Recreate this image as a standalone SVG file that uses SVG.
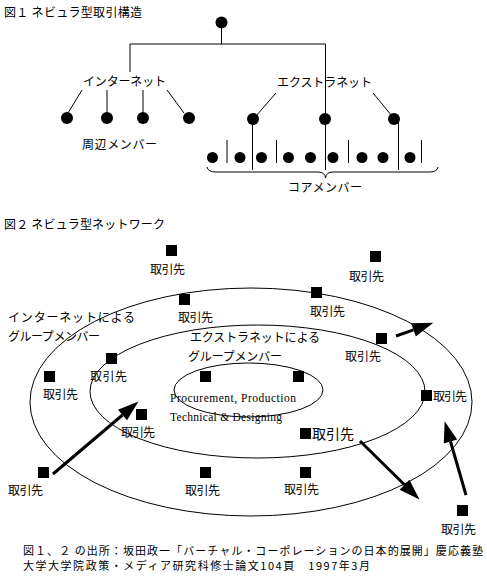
<svg xmlns="http://www.w3.org/2000/svg" width="487" height="577" viewBox="0 0 487 577">
<style>
text{font-family:"Noto Sans CJK JP","Noto Sans",sans-serif;font-size:12px;fill:#000}
.en{font-family:"Liberation Serif",serif;font-size:11.5px}
.big{font-size:14px}
.ft{font-size:11px}
.ln{stroke:#000;stroke-width:1;fill:none}
.dot{fill:#000}
.sq{fill:#000}
.ell{fill:none;stroke:#000;stroke-width:1}
.arr{stroke:#000;stroke-width:3;fill:none;marker-end:url(#ah)}
</style>
<defs>
<marker id="ah" markerUnits="userSpaceOnUse" markerWidth="22" markerHeight="14" refX="0" refY="7" orient="auto" overflow="visible">
<path d="M0,0 L21,7 L0,14 Z" fill="#000"/>
</marker>
</defs>
<rect width="487" height="577" fill="#fff"/>

<g id="title1"><text x="4" y="17" textLength="138">図１ ネビュラ型取引構造</text></g>

<g id="connectors-tree">
<path class="ln" d="M221.5,22 V44 M130,44 H325.5 V170 M130,44 V72"/>
<path class="ln" d="M82,90 L68,113 M107,90 V113 M143,90 V113 M167,90 L184,113"/>
<path class="ln" d="M276,93 L256,116 M373,93 L392,116 M252.5,119 V170 M398.5,119 V170"/>
<path class="ln" d="M227,140 V163 M276.5,140 V163 M348.5,140 V163 M421.5,140 V163"/>
<path class="ln" d="M207,167 Q208,172 216,172 H318 Q325,172 325.5,178 Q326,172 333,172 H430 Q437,172 438,167"/>
</g>

<g id="root"><circle class="dot" cx="221.5" cy="22.5" r="6"/></g>
<g id="internet"><text x="83" y="86" textLength="83">インターネット</text></g>
<g id="extranet"><text x="277" y="87" textLength="95">エクストラネット</text></g>
<g id="periphery">
<circle class="dot" cx="67" cy="118" r="6"/>
<circle class="dot" cx="107" cy="118" r="6"/>
<circle class="dot" cx="143" cy="118" r="6"/>
<circle class="dot" cx="189" cy="118" r="6"/>
<text x="82" y="149" textLength="75">周辺メンバー</text>
</g>
<g id="extra-members">
<circle class="dot" cx="253" cy="119" r="6"/>
<circle class="dot" cx="325" cy="119" r="6"/>
<circle class="dot" cx="394" cy="119" r="6"/>
</g>
<g id="core">
<circle class="dot" cx="212.5" cy="157.5" r="5.5"/>
<circle class="dot" cx="240" cy="157.5" r="5.5"/>
<circle class="dot" cx="261.5" cy="157.5" r="5.5"/>
<circle class="dot" cx="288.5" cy="157.5" r="5.5"/>
<circle class="dot" cx="310.5" cy="157.5" r="5.5"/>
<circle class="dot" cx="333" cy="157.5" r="5.5"/>
<circle class="dot" cx="362" cy="157.5" r="5.5"/>
<circle class="dot" cx="383" cy="157.5" r="5.5"/>
<circle class="dot" cx="410" cy="157.5" r="5.5"/>
<text x="288" y="192" textLength="74">コアメンバー</text>
</g>

<g id="title2"><text x="4" y="229" textLength="161">図２ ネビュラ型ネットワーク</text></g>

<g id="outer-ring">
<ellipse class="ell" cx="251" cy="402" rx="221" ry="114"/>
<text x="8" y="322" textLength="127">インターネットによる</text>
<text x="8" y="341" textLength="92">グループメンバー</text>
</g>
<g id="middle-ring">
<ellipse class="ell" cx="257.5" cy="391.5" rx="167.5" ry="66.5"/>
<text x="190" y="342" textLength="130">エクストラネットによる</text>
<text x="188" y="361" textLength="94">グループメンバー</text>
</g>
<g id="inner-ring">
<ellipse class="ell" cx="248.5" cy="390" rx="74.5" ry="27"/>
<text class="en" x="170" y="402" textLength="126">Procurement, Production</text>
<text class="en" x="170" y="421" textLength="112">Technical &amp; Designing</text>
</g>

<g id="p1"><rect class="sq" x="166" y="245" width="11" height="11"/><text x="150" y="274" textLength="35">取引先</text></g>
<g id="p2"><rect class="sq" x="179" y="294" width="11" height="11"/><text x="178" y="322" textLength="35">取引先</text></g>
<g id="p3"><rect class="sq" x="370" y="251" width="11" height="11"/><text x="349" y="281" textLength="35">取引先</text></g>
<g id="p4"><rect class="sq" x="311" y="287" width="11" height="11"/><text x="310" y="316" textLength="35">取引先</text></g>
<g id="p5"><rect class="sq" x="106" y="353" width="11" height="11"/><text x="90" y="381" textLength="37">取引先</text></g>
<g id="p6"><rect class="sq" x="376" y="333" width="11" height="11"/><text x="345" y="361" textLength="36">取引先</text></g>
<g id="p7"><rect class="sq" x="44" y="371" width="11" height="11"/><text x="43" y="399" textLength="35">取引先</text></g>
<g id="p8"><rect class="sq" x="200" y="371" width="11" height="11"/></g>
<g id="p9"><rect class="sq" x="293" y="371" width="11" height="11"/></g>
<g id="p10"><rect class="sq" x="136" y="409" width="11" height="11"/><text x="121" y="437" textLength="34">取引先</text></g>
<g id="p11"><rect class="sq" x="421" y="390" width="11" height="11"/><text x="433" y="401" textLength="34">取引先</text></g>
<g id="p12"><rect class="sq" x="300" y="428" width="11" height="11"/><text class="big" x="312" y="439" textLength="42">取引先</text></g>
<g id="p13"><rect class="sq" x="38" y="467" width="11" height="11"/><text x="8" y="495" textLength="35">取引先</text></g>
<g id="p14"><rect class="sq" x="200" y="467" width="11" height="11"/><text x="185" y="495" textLength="35">取引先</text></g>
<g id="p15"><rect class="sq" x="300" y="467" width="11" height="11"/><text x="284" y="494" textLength="35">取引先</text></g>
<g id="p16"><rect class="sq" x="457" y="505" width="11" height="11"/><text x="441" y="534" textLength="35">取引先</text></g>

<g id="connectors-arrows">
<path class="arr" d="M53,474 L122.5,415"/>
<path class="arr" d="M396,336 L413.5,329.8"/>
<path class="arr" d="M360,441 L404.5,484.8"/>
<path class="arr" d="M466,495 L450.5,441.5"/>
</g>

<g id="source">
<text class="ft" x="23" y="555" textLength="460">図１、２ の出所：坂田政一「バーチャル・コーポレーションの日本的展開」慶応義塾</text>
<text class="ft" x="23" y="570" textLength="347">大学大学院政策・メディア研究科修士論文104頁　1997年3月</text>
</g>
</svg>
